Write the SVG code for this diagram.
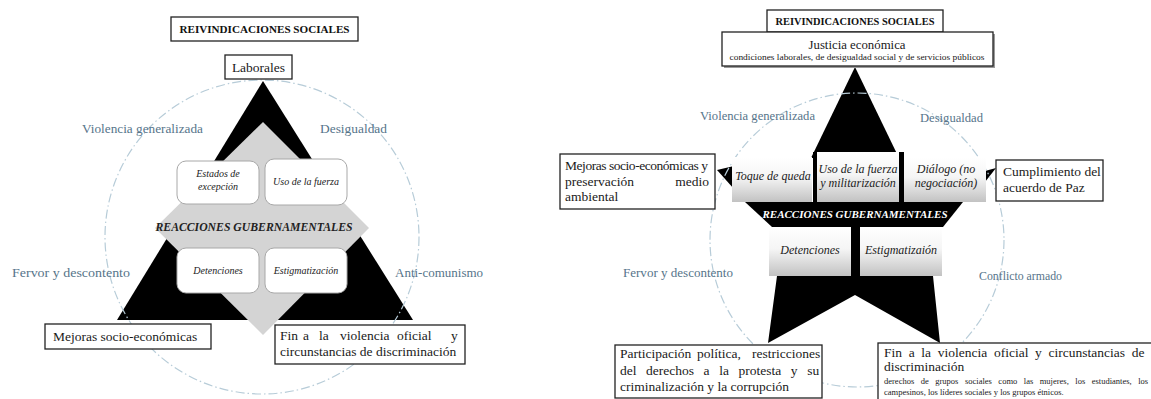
<svg xmlns="http://www.w3.org/2000/svg" width="1151" height="399" viewBox="0 0 1151 399" font-family="'Liberation Serif', 'Times New Roman', serif">
<defs>
<linearGradient id="gband" x1="0" y1="0" x2="0" y2="1">
<stop offset="0" stop-color="#ffffff"/>
<stop offset="0.45" stop-color="#f5f5f5"/>
<stop offset="1" stop-color="#c2c2c2"/>
</linearGradient>
</defs>
<style>
text{font-family:"Liberation Serif","Times New Roman",serif;}
.box{fill:#fff;stroke:#222;stroke-width:1.3;}
.t{font-size:13.5px;fill:#1a1a1a;}
.s{font-size:8.5px;fill:#1a1a1a;}
.hd{font-size:10px;font-weight:bold;fill:#111;}
.lab{font-size:13px;fill:#56748a;}
.ring{fill:none;stroke:#b7ccd8;stroke-width:1.2;stroke-dasharray:9 3 1.5 3;}
.it{font-style:italic;fill:#222;}
.rb{fill:#fff;stroke:#a8a8a8;stroke-width:1;}
.gb{fill:url(#gband);}
.blk{fill:#000;}
.rg{font-weight:bold;font-style:italic;}
</style>
<rect width="1151" height="399" fill="#fff"/>

<!-- LEFT DIAGRAM -->
<g id="left-shapes">
<polygon class="blk" points="263,81 413,320 117,320"/>
<polygon fill="#d4d4d4" points="263,122 369,228 263,335 155,228"/>
<circle class="ring" cx="262" cy="237" r="157"/>
</g>
<g id="left-title"><rect class="box" x="171" y="17" width="187" height="24"/><text class="hd" x="264.5" y="33" text-anchor="middle" textLength="170" lengthAdjust="spacingAndGlyphs">REIVINDICACIONES SOCIALES</text></g>
<g id="left-laborales"><rect class="box" x="225" y="55" width="67" height="24"/><text class="t" x="258.5" y="72" text-anchor="middle">Laborales</text></g>
<g id="left-estados"><rect class="rb" x="177" y="161" width="82" height="43" rx="9"/><text class="it" font-size="10" x="218" y="177" text-anchor="middle">Estados de</text><text class="it" font-size="10" x="218" y="190" text-anchor="middle">excepción</text></g>
<g id="left-uso"><rect class="rb" x="265" y="159" width="82" height="46" rx="9"/><text class="it" font-size="10" x="306" y="185" text-anchor="middle">Uso de la fuerza</text></g>
<g id="left-reacciones"><text class="rg" font-size="11.5" fill="#222" x="254" y="231" text-anchor="middle" textLength="197" lengthAdjust="spacingAndGlyphs">REACCIONES GUBERNAMENTALES</text></g>
<g id="left-detenciones"><rect class="rb" x="177" y="248" width="82" height="45" rx="9"/><text class="it" font-size="10" x="218" y="274" text-anchor="middle">Detenciones</text></g>
<g id="left-estigmatizacion"><rect class="rb" x="265" y="248" width="82" height="45" rx="9"/><text class="it" font-size="10" x="306" y="274" text-anchor="middle">Estigmatización</text></g>
<g id="left-labels">
<text class="lab" x="82" y="133" textLength="121" lengthAdjust="spacingAndGlyphs">Violencia generalizada</text>
<text class="lab" x="320" y="133" textLength="67" lengthAdjust="spacingAndGlyphs">Desigualdad</text>
<text class="lab" x="12" y="277" textLength="118" lengthAdjust="spacingAndGlyphs">Fervor y descontento</text>
<text class="lab" x="395" y="277">Anti-comunismo</text>
</g>
<g id="left-mejoras"><rect class="box" x="45" y="324" width="166" height="25"/><text class="t" x="53" y="341">Mejoras socio-económicas</text></g>
<g id="left-fin"><rect class="box" x="275" y="325" width="190" height="39"/>
<text class="t" y="340"><tspan x="280">Fin</tspan><tspan x="303">a</tspan><tspan x="319">la</tspan><tspan x="340">violencia</tspan><tspan x="397">oficial</tspan><tspan x="451">y</tspan></text>
<text class="t" x="280" y="356">circunstancias de discriminación</text></g>

<!-- RIGHT DIAGRAM -->
<g id="right-star">
<polygon class="blk" points="855,67 899,158 811,158"/>
<rect class="blk" x="813" y="152" width="91" height="50"/>
<polygon class="blk" points="717,170 734,166 734,189"/>
<polygon class="blk" points="996,168 985,171 985,182"/>
<polygon class="blk" points="745,202 963,202 943,227 772,227"/>
<rect class="blk" x="851" y="227" width="9" height="49"/>
<polygon class="blk" points="777,276 933,276 940,343 855,295 768,343"/>
<circle class="ring" cx="857" cy="240" r="147"/>
</g>
<g id="right-title"><rect class="box" x="767" y="10" width="176" height="22"/><text class="hd" font-size="9.5" x="855" y="25" text-anchor="middle" textLength="159" lengthAdjust="spacingAndGlyphs">REIVINDICACIONES SOCIALES</text></g>
<g id="right-justicia"><rect x="724" y="34" width="271" height="34" fill="#9a9a9a"/><rect class="box" x="722" y="32" width="271" height="34"/>
<text class="t" x="857" y="49" text-anchor="middle" textLength="97" lengthAdjust="spacingAndGlyphs">Justicia económica</text>
<text class="s" x="857" y="60" text-anchor="middle" textLength="255" lengthAdjust="spacingAndGlyphs">condiciones laborales, de desigualdad social y de servicios públicos</text></g>
<g id="right-toque"><rect class="gb" x="732" y="157" width="80" height="45"/><text class="it" font-size="12" x="773" y="180" text-anchor="middle">Toque de queda</text></g>
<g id="right-uso"><rect class="gb" x="817" y="152" width="82" height="50"/><text class="it" font-size="12" x="858" y="173" text-anchor="middle">Uso de la fuerza</text><text class="it" font-size="12" x="858" y="187" text-anchor="middle">y militarización</text></g>
<g id="right-dialogo"><rect class="gb" x="904" y="157" width="82" height="45"/><text class="it" font-size="12" x="946" y="173" text-anchor="middle">Diálogo (no</text><text class="it" font-size="12" x="946" y="187" text-anchor="middle">negociación)</text></g>
<g id="right-reacciones"><text class="rg" font-size="11" fill="#fff" x="855" y="218" text-anchor="middle" textLength="185" lengthAdjust="spacingAndGlyphs">REACCIONES GUBERNAMENTALES</text></g>
<g id="right-detenciones"><rect class="gb" x="769" y="227" width="82" height="49"/><text class="it" font-size="12" x="810" y="254" text-anchor="middle">Detenciones</text></g>
<g id="right-estigmatizacion"><rect class="gb" x="860" y="227" width="82" height="49"/><text class="it" font-size="12" x="901" y="254" text-anchor="middle">Estigmatizaión</text></g>
<g id="right-labels">
<text class="lab" x="700" y="120" textLength="115" lengthAdjust="spacingAndGlyphs">Violencia generalizada</text>
<text class="lab" x="920" y="122" textLength="63" lengthAdjust="spacingAndGlyphs">Desigualdad</text>
<text class="lab" x="623" y="277" textLength="110" lengthAdjust="spacingAndGlyphs">Fervor y descontento</text>
<text class="lab" x="979" y="280" textLength="83" lengthAdjust="spacingAndGlyphs">Conflicto armado</text>
</g>
<g id="right-mejoras"><rect class="box" x="560" y="154" width="155" height="55"/>
<text class="t" font-size="13" x="565" y="170" textLength="143" lengthAdjust="spacing">Mejoras socio-económicas y</text>
<text class="t" font-size="13" x="565" y="186">preservación</text><text class="t" font-size="13" x="709" y="186" text-anchor="end">medio</text>
<text class="t" font-size="13" x="565" y="201">ambiental</text></g>
<g id="right-cumplimiento"><rect class="box" x="996" y="160" width="107" height="41"/>
<text class="t" font-size="13" x="1003" y="176">Cumplimiento del</text>
<text class="t" font-size="13" x="1003" y="192">acuerdo de Paz</text></g>
<g id="right-participacion"><rect class="box" x="615" y="345" width="207" height="53"/>
<text class="t" font-size="13" y="358"><tspan x="620">Participación</tspan><tspan x="697">política,</tspan><tspan x="752">restricciones</tspan></text>
<text class="t" font-size="13" x="620" y="375" word-spacing="6.2">del derechos a la protesta y su</text>
<text class="t" font-size="13" x="620" y="391">criminalización y la corrupción</text></g>
<g id="right-fin"><rect class="box" x="878" y="343" width="285" height="60"/>
<text class="t" font-size="13" x="884" y="357" word-spacing="3.3">Fin a la violencia oficial y circunstancias de</text>
<text class="t" font-size="13" x="884" y="371">discriminación</text>
<text class="s" x="884" y="384" word-spacing="4.4">derechos de grupos sociales como las mujeres, los estudiantes, los</text>
<text class="s" x="884" y="395">campesinos, los líderes sociales y los grupos étnicos.</text></g>
</svg>
